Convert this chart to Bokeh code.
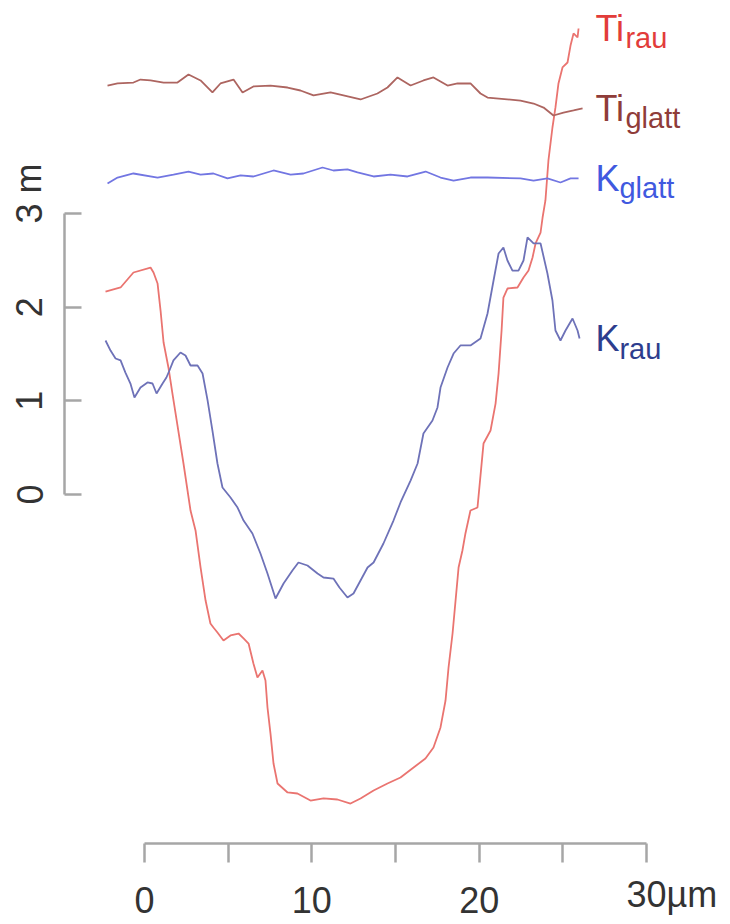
import math
from bokeh.plotting import figure
from bokeh.models import Range1d, LinearAxis, FixedTicker
from bokeh.core.properties import value
from bokeh.embed import file_html
from bokeh.resources import INLINE

# ---------------- data (µm, m) ----------------
ti_rau_x = [-2.33, -1.43, -0.66, 0.36, 0.54, 0.78, 0.96, 1.14, 1.43, 1.67, 1.97, 2.33, 2.75, 3.05,
            3.35, 3.65, 3.94, 4.12, 4.36, 4.72, 5.14, 5.62, 5.92, 6.22, 6.51, 6.75, 7.05, 7.23,
            7.35, 7.53, 7.71, 7.95, 8.55, 9.14, 9.92, 10.70, 11.53, 12.31, 12.91, 13.69, 14.52,
            15.30, 16.08, 16.79, 17.27, 17.69, 17.99, 18.17, 18.41, 18.59, 18.77, 19.00, 19.18,
            19.48, 19.90, 20.26, 20.68, 20.98, 21.16, 21.34, 21.45, 21.69, 22.29, 22.65, 22.95,
            23.19, 23.37, 23.67, 23.79, 23.96, 24.14, 24.38, 24.56, 24.74, 24.98, 25.28, 25.46,
            25.64, 25.88, 25.94]
ti_rau_y = [2.167, 2.210, 2.370, 2.423, 2.370, 2.253, 1.964, 1.623, 1.356, 1.078, 0.737, 0.331,
            -0.171, -0.384, -0.779, -1.132, -1.377, -1.420, -1.473, -1.559, -1.505, -1.484,
            -1.537, -1.591, -1.804, -1.954, -1.879, -1.986, -2.274, -2.552, -2.872, -3.085,
            -3.181, -3.192, -3.267, -3.245, -3.256, -3.299, -3.245, -3.160, -3.085, -3.021,
            -2.915, -2.818, -2.701, -2.487, -2.199, -1.847, -1.484, -1.132, -0.779, -0.598,
            -0.416, -0.171, -0.139, 0.544, 0.683, 0.971, 1.292, 1.751, 2.103, 2.199, 2.210,
            2.317, 2.391, 2.530, 2.680, 2.797, 2.957, 3.139, 3.566, 3.918, 4.132, 4.388, 4.559,
            4.612, 4.793, 4.922, 4.879, 4.975]

ti_glatt_x = [-2.21, -1.61, -0.66, -0.24, 0.36, 1.14, 1.97, 2.63, 3.35, 4.06, 4.54, 5.32, 5.86,
              6.51, 7.53, 8.55, 9.32, 10.10, 11.12, 11.89, 12.91, 13.92, 14.52, 15.12, 15.90,
              16.67, 17.27, 18.11, 18.71, 19.48, 20.08, 20.50, 22.47, 23.25, 23.85, 24.44,
              25.04, 25.64, 26.18]
ti_glatt_y = [4.366, 4.388, 4.398, 4.430, 4.420, 4.398, 4.398, 4.484, 4.420, 4.292, 4.388,
              4.430, 4.292, 4.356, 4.366, 4.345, 4.313, 4.260, 4.292, 4.260, 4.217, 4.281,
              4.345, 4.452, 4.366, 4.420, 4.452, 4.366, 4.388, 4.388, 4.281, 4.238, 4.206,
              4.174, 4.131, 4.046, 4.078, 4.100, 4.121]

k_glatt_x = [-2.21, -1.61, -0.66, 0.78, 1.73, 2.63, 3.35, 4.12, 4.96, 5.74, 6.51, 7.71, 8.73,
             9.50, 10.64, 11.29, 12.13, 12.73, 13.69, 14.70, 15.72, 16.80, 17.69, 18.47, 19.48,
             20.50, 22.47, 23.25, 24.08, 24.86, 25.46, 25.94]
k_glatt_y = [3.320, 3.384, 3.427, 3.384, 3.416, 3.448, 3.416, 3.427, 3.374, 3.406, 3.395,
             3.459, 3.416, 3.427, 3.491, 3.459, 3.470, 3.438, 3.395, 3.416, 3.395, 3.448,
             3.384, 3.352, 3.384, 3.384, 3.374, 3.352, 3.374, 3.331, 3.374, 3.374]

k_rau_x = [-2.33, -2.03, -1.73, -1.43, -1.14, -0.84, -0.60, -0.24, 0.18, 0.48, 0.72, 1.08, 1.31,
           1.49, 1.73, 2.15, 2.45, 2.75, 3.17, 3.47, 3.77, 4.06, 4.36, 4.66, 5.14, 5.56, 5.92,
           6.45, 6.93, 7.35, 7.83, 8.31, 8.84, 9.20, 9.74, 10.34, 10.70, 11.29, 11.65, 12.13,
           12.49, 12.91, 13.33, 13.69, 14.28, 14.88, 15.30, 15.90, 16.32, 16.67, 17.21, 17.51,
           17.69, 18.11, 18.47, 18.88, 19.48, 20.08, 20.50, 20.86, 21.16, 21.45, 21.69, 21.99,
           22.35, 22.65, 22.89, 23.25, 23.67, 24.08, 24.38, 24.56, 24.86, 25.16, 25.58, 25.88,
           26.00]
k_rau_y = [1.644, 1.537, 1.452, 1.431, 1.302, 1.185, 1.036, 1.142, 1.196, 1.185, 1.078, 1.185,
           1.249, 1.324, 1.431, 1.516, 1.484, 1.377, 1.377, 1.292, 1.004, 0.683, 0.331, 0.075,
           -0.032, -0.139, -0.278, -0.416, -0.630, -0.843, -1.110, -0.950, -0.811, -0.726,
           -0.758, -0.843, -0.886, -0.897, -0.993, -1.100, -1.057, -0.918, -0.779, -0.726,
           -0.523, -0.278, -0.085, 0.149, 0.331, 0.651, 0.790, 0.929, 1.142, 1.356, 1.505,
           1.591, 1.591, 1.665, 1.932, 2.285, 2.573, 2.637, 2.498, 2.391, 2.391, 2.498, 2.744,
           2.680, 2.680, 2.359, 2.071, 1.751, 1.644, 1.751, 1.879, 1.751, 1.665]

x_ticks = [0, 5, 10, 15, 20, 25, 30]
x_tick_labels = ["0", "", "10", "", "20", "", ""]
x_unit = "30µm"
y_ticks = [0, 1, 2, 3]
y_tick_labels = ["0", "1", "2", "3"]
y_unit = "m"

series_names = ["Ti", "Ti", "K", "K"]
series_subs = ["rau", "glatt", "glatt", "rau"]

# ---------------- layout ----------------
W, H = 730, 924
PX_X, PX_Y = 16.733, 93.67      # pixels per data unit
X0, Y0 = 144, 494               # canvas pixel of data (0, 0)
X_AXIS_AT = (Y0 - 843) / PX_Y
Y_AXIS_AT = (64 - X0) / PX_X

p = figure(width=W, height=H, output_backend="svg", toolbar_location=None,
           x_range=Range1d(-X0 / PX_X, (W - X0) / PX_X),
           y_range=Range1d(-(H - Y0) / PX_Y, Y0 / PX_Y),
           x_axis_type=None, y_axis_type=None, min_border=0)
p.outline_line_color = None
p.background_fill_color = "white"
p.border_fill_color = "white"

FONT = "Liberation Sans"
AX_COL = "#a6a6a6"
LBL_COL = "#333333"

xa = LinearAxis(fixed_location=X_AXIS_AT, bounds=(0, 30),
                ticker=FixedTicker(ticks=x_ticks, minor_ticks=[]))
xa.major_label_overrides = {t: l for t, l in zip(x_ticks, x_tick_labels)}
xa.axis_line_color = AX_COL
xa.axis_line_width = 2.5
xa.major_tick_line_color = AX_COL
xa.major_tick_line_width = 2.5
xa.major_tick_out = 19
xa.major_tick_in = 0
xa.minor_tick_line_color = None
xa.major_label_standoff = 24
xa.major_label_text_font = FONT
xa.major_label_text_font_size = "36px"
xa.major_label_text_color = LBL_COL
p.add_layout(xa, "below")

ya = LinearAxis(fixed_location=Y_AXIS_AT, bounds=(0, 3),
                ticker=FixedTicker(ticks=y_ticks, minor_ticks=[]))
ya.major_label_overrides = {t: l for t, l in zip(y_ticks, y_tick_labels)}
ya.axis_line_color = AX_COL
ya.axis_line_width = 2.5
ya.major_tick_line_color = AX_COL
ya.major_tick_line_width = 2.5
ya.major_tick_out = 0
ya.major_tick_in = 17
ya.minor_tick_line_color = None
ya.major_label_standoff = 22
ya.major_label_orientation = "vertical"
ya.major_label_text_font = FONT
ya.major_label_text_font_size = "36px"
ya.major_label_text_color = LBL_COL
p.add_layout(ya, "left")

# unit texts
p.text(x=[x_ticks[-1]], y=[X_AXIS_AT], text=[x_unit], x_offset=-20, y_offset=51,
       text_align="left", text_baseline="alphabetic", text_font=value(FONT),
       text_font_size="36px", text_color=LBL_COL)
p.text(x=[Y_AXIS_AT], y=[y_ticks[-1]], text=[y_unit], x_offset=-36, y_offset=-20,
       angle=math.pi / 2, text_align="left", text_baseline="middle",
       text_font=value(FONT), text_font_size="36px", text_color=LBL_COL)

# ---------------- series ----------------
series = [
    (ti_rau_x, ti_rau_y, "#ea7470", "#e23c3a"),
    (ti_glatt_x, ti_glatt_y, "#ad6560", "#8f3c39"),
    (k_glatt_x, k_glatt_y, "#7276e2", "#4059df"),
    (k_rau_x, k_rau_y, "#6e72b8", "#2d3d8e"),
]
LABEL_X = 26.95
main_w = {"Ti": 30, "K": 24}
for (xs, ys, lc, tc), nm, sub in zip(series, series_names, series_subs):
    p.line(xs, ys, line_color=lc, line_width=1.8)
    p.text(x=[LABEL_X], y=[ys[-1]], text=[nm], y_offset=0, text_align="left",
           text_baseline="alphabetic", text_font=value(FONT), text_font_size="36px",
           text_color=tc)
    p.text(x=[LABEL_X], y=[ys[-1]], text=[sub], x_offset=main_w[nm], y_offset=10,
           text_align="left", text_baseline="alphabetic", text_font=value(FONT),
           text_font_size="29px", text_color=tc)

open("out.html", "w").write(file_html(p, INLINE))
